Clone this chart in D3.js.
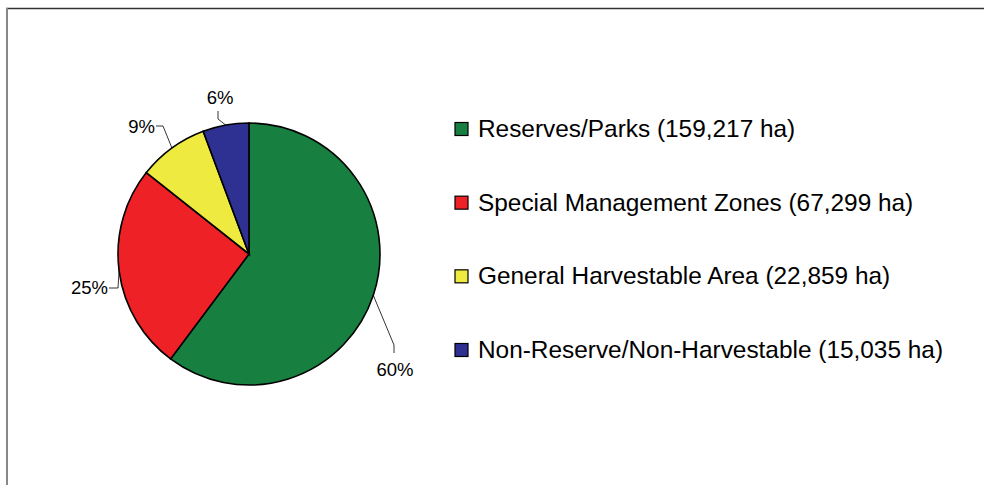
<!DOCTYPE html>
<html>
<head>
    <title>Land base breakdown</title>
    <script src="https://d3js.org/d3.v7.min.js"></script>
    <style>
        body { margin: 0; background: #ffffff; }
        text { font-family: "Liberation Sans", Arial, sans-serif; fill: #000000; }
        .slice { stroke: #000000; stroke-width: 1.6px; }
        .leader { fill: none; stroke: #000000; stroke-width: 0.8px; }
        .swatch { stroke: #000000; stroke-width: 1.2px; }
    </style>
</head>
<body>
    <div id="svg_container"></div>

    <script>
        const width = 984;
        const height = 485;

        // data
        const categories = ["Reserves/Parks", "Special Management Zones", "General Harvestable Area", "Non-Reserve/Non-Harvestable"];
        const hectares = [159217, 67299, 22859, 15035];
        const colors = ["#178040", "#ee2226", "#eeea3f", "#2e3192"];

        const svg = d3.select("#svg_container")
            .append("svg")
            .attr("width", width)
            .attr("height", height);

        // frame (only top and left edges show)
        svg.append("line").attr("x1", 6).attr("y1", 8.5).attr("x2", width).attr("y2", 8.5)
            .attr("stroke", "#333").attr("stroke-width", 1.6);
        svg.append("line").attr("x1", 7).attr("y1", 8).attr("x2", 7).attr("y2", height)
            .attr("stroke", "#888").attr("stroke-width", 2);

        const cx = 249, cy = 254, radius = 131;

        const total = d3.sum(hectares);
        const pie_data = d3.pie().sort(null).value(d => d)(hectares);
        const arc = d3.arc().innerRadius(0).outerRadius(radius);

        const g = svg.append("g").attr("transform", `translate(${cx},${cy})`);

        g.selectAll("path")
            .data(pie_data)
            .enter()
            .append("path")
            .attr("class", "slice")
            .attr("d", arc)
            .attr("fill", (d, i) => colors[i]);

        // leader lines: elbow offsets & text placement relative to pie centre
        const label_layout = [
            { elbow: [145, 91], end: [145, 99], tx: 146, ty: 122, anchor: "middle" },
            { elbow: [-131, 34], end: [-140, 34], tx: -141, ty: 40, anchor: "end" },
            { elbow: [-86, -128], end: [-93, -128], tx: -94, ty: -121, anchor: "end" },
            { elbow: [-31, -135], end: [-31, -143], tx: -29, ty: -150, anchor: "middle" }
        ];

        pie_data.forEach((d, i) => {
            const mid = (d.startAngle + d.endAngle) / 2;
            const ax = radius * Math.sin(mid);
            const ay = -radius * Math.cos(mid);
            const lay = label_layout[i];
            g.append("path")
                .attr("class", "leader")
                .attr("d", d3.line()([[ax, ay], lay.elbow, lay.end]));
            g.append("text")
                .attr("x", lay.tx)
                .attr("y", lay.ty)
                .attr("text-anchor", lay.anchor)
                .style("font-size", "18.5px")
                .text(Math.round(d.value / total * 100) + "%");
        });

        // legend
        const legend_x = 455;
        const legend_y = d3.scalePoint().domain(categories).range([129, 350]);

        const fmt = d3.format(",");
        const legend = svg.selectAll(".legend")
            .data(categories)
            .enter()
            .append("g")
            .attr("class", "legend")
            .attr("transform", d => `translate(${legend_x},${legend_y(d)})`);

        legend.append("rect")
            .attr("class", "swatch")
            .attr("x", 0)
            .attr("y", -6.5)
            .attr("width", 13)
            .attr("height", 13)
            .attr("fill", (d, i) => colors[i]);

        legend.append("text")
            .attr("x", 23)
            .attr("y", 8)
            .style("font-size", "24.4px")
            .text((d, i) => `${d} (${fmt(hectares[i])} ha)`);
    </script>
</body>
</html>
